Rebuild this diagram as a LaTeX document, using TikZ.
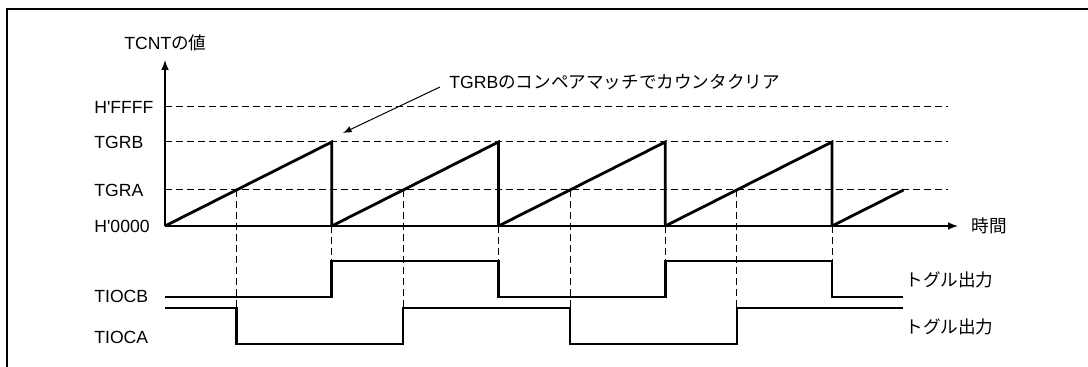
\documentclass[tikz,border=0pt]{standalone}
\usepackage{fontspec}
\setmainfont{Liberation Sans}
\newfontfamily\jp{Noto Sans CJK JP}
\usepackage{tikz}
\usetikzlibrary{arrows, positioning}
\tikzset{
    frame/.style={line width=1pt},
    axis/.style={line width=0.7pt, -latex},
    wave/.style={line width=1.4pt, line join=miter},
    guide/.style={line width=0.5pt, dash pattern=on 3.5pt off 2pt},
    lbl/.style={inner sep=0pt, anchor=west, font=\fontsize{8.8}{10}\selectfont},
    arrow/.style={line width=0.5pt, -latex}
}

\begin{document}
\begin{tikzpicture}[x=0.5pt, y=-0.5pt]
    \useasboundingbox (0,0) rectangle (1088,367);
    \draw [frame] (7,367) -- (7,9) -- (1088,9);

    % axes
    \coordinate (o) at (165,226);
    \coordinate (ytop) at (165,60);
    \coordinate (xend) at (958,226);
    \draw [axis] (o) -- (ytop);
    \draw [axis] (o) -- (xend);

    % levels
    \node (tcnt) [lbl] at (124,43) {TCNT{\jp の値}};
    \node (ffff) [lbl] at (94,107) {H\textquotesingle FFFF};
    \node (tgrb) [lbl] at (94,142) {TGRB};
    \node (tgra) [lbl] at (94,190) {TGRA};
    \node (zero) [lbl] at (94,226) {H\textquotesingle 0000};
    \node (time) [lbl] at (971,226) {\jp 時間};
    \foreach \y in {107,142,190}
        \draw [guide] (165,\y) -- (948,\y);

    % counter
    \foreach \k in {0,...,3} {
        \draw [wave] ({165+166.75*\k},226) -- ({331.75+166.75*\k},142) -- ({331.75+166.75*\k},226);
        \draw [guide] ({236.5+166.75*\k},190) -- ({236.5+166.75*\k},308);
        \draw [guide] ({331.75+166.75*\k},226) -- ({331.75+166.75*\k},261);
    }
    \draw [wave] (832,226) -- (903.5,190);

    % outputs
    \node (tiocb) [lbl] at (94,296) {TIOCB};
    \node (tioca) [lbl] at (94,337) {TIOCA};
    \node (togb) [lbl] at (905,280) {\jp トグル出力};
    \node (toga) [lbl] at (905,327) {\jp トグル出力};
    \draw [wave] (165,297) -- (331.75,297) -- (331.75,261) -- (498.5,261) -- (498.5,297)
        -- (665.25,297) -- (665.25,261) -- (832,261) -- (832,297) -- (903,297);
    \draw [wave] (165,308) -- (236.5,308) -- (236.5,344) -- (403,344) -- (403,308)
        -- (570,308) -- (570,344) -- (737,344) -- (737,308) -- (903,308);

    % note
    \node (note) [lbl] at (449,82) {TGRB{\jp のコンペアマッチでカウンタクリア}};
    \coordinate (clr) at (343,133);
    \draw [arrow] ([shift={(-9,5)}]note.west) -- (clr);
\end{tikzpicture}
\end{document}
